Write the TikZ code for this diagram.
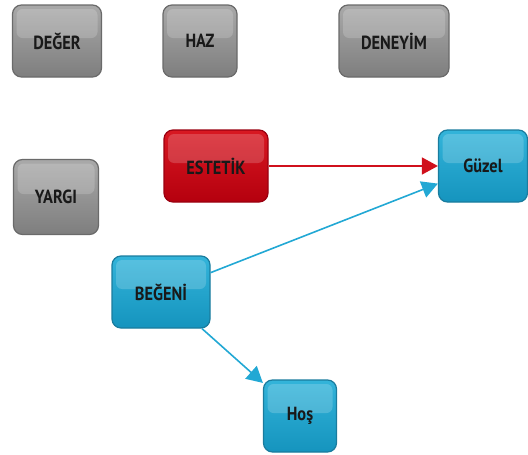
\documentclass[tikz,border=0pt]{standalone}
\usepackage{fontspec}
\setsansfont[FakeStretch=0.86]{PT Sans}
\usepackage{tikz}
\usetikzlibrary{arrows.meta}
\usetikzlibrary{positioning}
\definecolor{greytop}{HTML}{A9A9A9}
\definecolor{greybot}{HTML}{7E7E7E}
\definecolor{greyline}{HTML}{6A6A6A}
\definecolor{redtop}{HTML}{D81822}
\definecolor{redbot}{HTML}{B5000E}
\definecolor{redline}{HTML}{9A0010}
\definecolor{bluetop}{HTML}{33B4DA}
\definecolor{bluebot}{HTML}{1594BE}
\definecolor{blueline}{HTML}{1A7C9E}
\definecolor{redarrow}{HTML}{D0101C}
\definecolor{bluearrow}{HTML}{22A8D4}
\tikzset{
  every picture/.style={font={\sffamily\bfseries}, >={Triangle[length=16pt,width=17pt]}}}

\begin{document}
\begin{tikzpicture}[x=1pt, y=-1pt,
    box/.style={rounded corners=9pt, minimum height=72pt, line width=1.2pt,
      text=black!90, font={\sffamily\bfseries\fontsize{19}{22}\selectfont},
      path picture={
        \fill[white, opacity=0.18, rounded corners=6pt]
          ([xshift=4pt,yshift=-4pt]path picture bounding box.north west)
          rectangle ([xshift=-4pt,yshift=3pt]path picture bounding box.east);}},
    greybox/.style={box, draw=greyline, top color=greytop, bottom color=greybot},
    redbox/.style={box, draw=redline, top color=redtop, bottom color=redbot},
    bluebox/.style={box, draw=blueline, top color=bluetop, bottom color=bluebot}]

    \useasboundingbox (0,0) rectangle (528,455);

    \node[greybox, minimum width=89pt] (DEGER) at (57,41) {DEĞER};
    \node[greybox, minimum width=74pt] (HAZ) at (200,41) {HAZ};
    \node[greybox, minimum width=110pt] (DENEYIM) at (394,41) {DENEYİM};
    \node[greybox, minimum width=85pt, minimum height=75pt] (YARGI) at (56,197) {YARGI};

    \node[redbox, minimum width=104pt] (ESTETIK) at (216,166) {ESTETİK};

    \node[bluebox, minimum width=89pt] (GUZEL) at (483,166) {Güzel};
    \node[bluebox, minimum width=98pt] (BEGENI) at (161,292) {BEĞENİ};
    \node[bluebox, minimum width=73pt] (HOS) at (300,416) {Hoş};

    \path[->, redarrow, line width=1.6pt] (ESTETIK) edge (GUZEL);
    \path[->, bluearrow, line width=1.6pt] (BEGENI) edge (GUZEL) edge (HOS);
  \end{tikzpicture}
\end{document}
